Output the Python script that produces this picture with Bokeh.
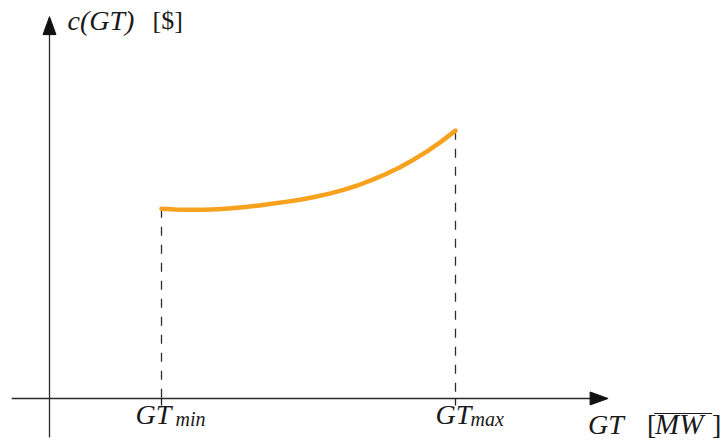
from bokeh.plotting import figure
from bokeh.models import Range1d, Label
from bokeh.embed import file_html
from bokeh.resources import INLINE

# Generator cost curve c(GT) between the operating limits
gt_min = 40.0
gt_max = 145.0
gt = [40, 45, 50, 55, 60, 65, 70, 75, 80, 85, 90, 95,
      100, 105, 110, 115, 120, 125, 130, 135, 140, 145]
cost = [70.6, 70.3, 70.2, 70.2, 70.4, 70.7, 71.2, 71.8, 72.5, 73.2, 74.0, 75.0,
        76.2, 77.6, 79.2, 81.2, 83.4, 85.9, 88.8, 92.0, 95.6, 99.6]

tick_labels = ["GT", "min", "GT", "max"]
y_label = "c(GT)"
y_unit = "[$]"
x_label = "GT"
x_unit = "MW"

W, H = 721, 441
GT_LO, GT_HI = -17.5, 240.0
C_LO, C_HI = -16.0, 148.0
sx = W / (GT_HI - GT_LO)   # pixels per GT unit
sy = H / (C_HI - C_LO)     # pixels per cost unit

p = figure(width=W, height=H, output_backend="svg", toolbar_location=None,
           x_range=Range1d(GT_LO, GT_HI), y_range=Range1d(C_LO, C_HI),
           min_border=0)
p.axis.visible = False
p.grid.visible = False
p.outline_line_color = None
p.background_fill_color = "white"
p.border_fill_color = "white"

AX = "#2b2b2b"
TXT = "#1a1a1a"
SERIF = "Liberation Serif"

# hand-drawn axes with arrow heads
x_tip = 199.5
y_tip = 142.0
p.line([-13.5, x_tip - 16 / sx], [0, 0], line_color=AX, line_width=1.3)
p.line([0, 0], [-14.5, y_tip - 16 / sy], line_color=AX, line_width=1.3)
head_len, head_half = 18, 6.5
p.patch([x_tip, x_tip - head_len / sx, x_tip - head_len / sx],
        [0, head_half / sy, -head_half / sy], color="#111111")
p.patch([0, head_half / sx, -head_half / sx],
        [y_tip, y_tip - head_len / sy, y_tip - head_len / sy], color="#111111")

# dashed drop lines and ticks at the limits
for xv, yv in ((gt_min, cost[0]), (gt_max, cost[-1])):
    p.line([xv, xv], [yv, 0], line_color="#2e2e2e", line_width=1.3, line_dash="9 9")
    p.line([xv, xv], [0, -7 / sy], line_color="#222222", line_width=1.3)

# cost curve
p.line(gt, cost, line_color="#f6a21e", line_width=4.5,
       line_cap="round", line_join="round")

def lab(text, x, y, xo, yo, size, italic=True):
    p.add_layout(Label(x=x, y=y, x_offset=xo, y_offset=yo, text=text,
                       text_font=SERIF, text_font_size=f"{size}px",
                       text_font_style="italic" if italic else "normal",
                       text_color=TXT, text_align="left",
                       text_baseline="alphabetic"))

# limit labels
lab(tick_labels[0], gt_min, 0, -26, -16, 28)
lab(tick_labels[1], gt_min, 0, 14, -21, 20)
lab(tick_labels[2], gt_max, 0, -20, -16, 28)
lab(tick_labels[3], gt_max, 0, 15, -21, 20)

# y axis title
lab(y_label, 0, y_tip, 18, -4, 28)
lab(y_unit, 0, y_tip, 103, -4, 26, italic=False)

# x axis title with overlined unit
lab(x_label, x_tip, 0, -20, -26, 28)
lab("[", x_tip, 0, 39, -26, 28, italic=False)
lab(x_unit, x_tip, 0, 47, -26, 29)
lab("]", x_tip, 0, 104, -26, 28, italic=False)
ov_x0 = x_tip + 46 / sx
ov_x1 = x_tip + 104 / sx
p.line([ov_x0, ov_x1], [-15 / sy, -15 / sy], line_color=TXT, line_width=1.2)

open("out.html", "w").write(file_html(p, INLINE))
